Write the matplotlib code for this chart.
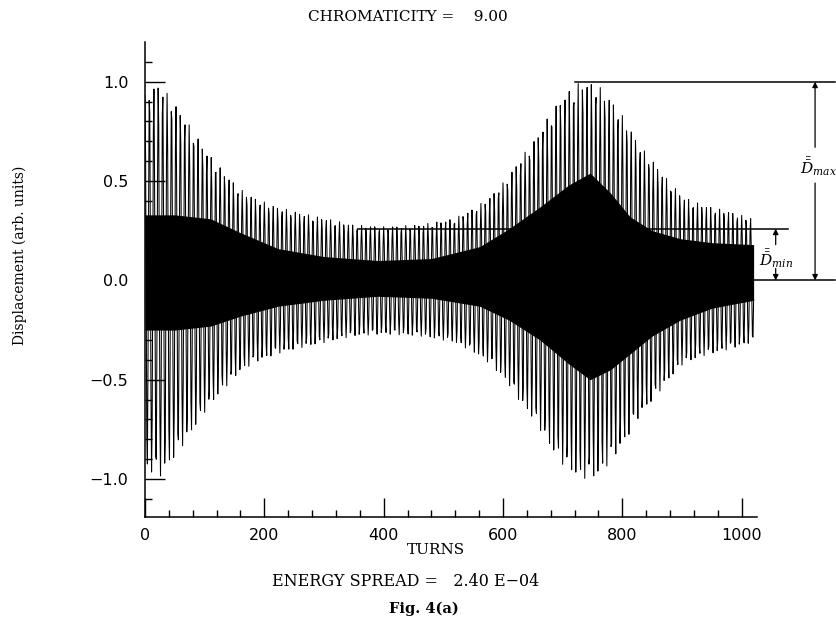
import numpy as np
import matplotlib
matplotlib.use("Agg")
import matplotlib.pyplot as plt

# envelope of the displacement signal
env_turns = [0, 5, 25, 50, 75, 103, 131, 159, 187, 221, 260, 305, 349, 400,
             461, 517, 550, 578, 606, 628, 656, 679, 701, 729, 757, 779, 807,
             829, 852, 875, 902, 935, 975, 1020]
env_amp = [0.93, 0.96, 0.99, 0.89, 0.78, 0.65, 0.55, 0.46, 0.41, 0.37, 0.34,
           0.31, 0.28, 0.27, 0.28, 0.31, 0.36, 0.42, 0.51, 0.61, 0.72, 0.84,
           0.93, 1.0, 0.99, 0.92, 0.80, 0.68, 0.60, 0.51, 0.42, 0.38, 0.35, 0.31]
tune_frac = 0.135
n_turns = 1020

# solid dark core of the trace (upper / lower edge)
core_turns = [0, 50, 110, 160, 223, 300, 390, 480, 561, 610, 662, 710, 746,
              780, 813, 850, 897, 950, 1020]
core_hi = [0.33, 0.33, 0.31, 0.24, 0.16, 0.12, 0.10, 0.11, 0.17, 0.26, 0.37,
           0.48, 0.54, 0.44, 0.32, 0.25, 0.21, 0.19, 0.18]
core_lo = [-0.25, -0.25, -0.23, -0.18, -0.13, -0.10, -0.08, -0.09, -0.13,
           -0.20, -0.30, -0.42, -0.50, -0.45, -0.37, -0.28, -0.20, -0.14, -0.10]

d_max = 1.0
d_min = 0.26
xticks = [0, 200, 400, 600, 800, 1000]
yticks = [-1.0, -0.5, 0.0, 0.5, 1.0]

turns = np.arange(n_turns + 1)
amp = np.interp(turns, env_turns, env_amp)
disp = amp * np.cos(2 * np.pi * tune_frac * turns)

plt.rcParams["mathtext.fontset"] = "dejavuserif"

fig = plt.figure(figsize=(8.36, 6.27), dpi=100)
ax = fig.add_axes([145 / 836, 110 / 627, 611.6 / 836, 475 / 627])

ax.fill_between(turns, np.interp(turns, core_turns, core_lo),
                np.interp(turns, core_turns, core_hi), color="black", lw=0)
ax.plot(turns, disp, color="black", lw=0.75)

ax.set_xlim(0, 1025)
ax.set_ylim(-1.191, 1.2)
for s in ["top", "right"]:
    ax.spines[s].set_visible(False)
for s in ["left", "bottom"]:
    ax.spines[s].set_linewidth(1.1)

ax.set_xticks(xticks)
ax.set_xticks(np.arange(0, 1025, 40), minor=True)
ax.set_yticks(yticks)
ax.set_yticks(np.arange(-1.1, 1.15, 0.1), minor=True)
ax.set_yticklabels(["\u22121.0", "\u22120.5", "0.0", "0.5", "1.0"])
ax.tick_params(axis="y", which="major", direction="in", length=14.5, width=1.0,
               labelsize=11.5, pad=12)
ax.tick_params(axis="x", which="major", direction="in", length=13.7, width=1.0,
               labelsize=11.5, pad=8)
ax.tick_params(which="minor", direction="in", length=5, width=1.0)
for lab in ax.get_xticklabels() + ax.get_yticklabels():
    lab.set_family("DejaVu Sans")

# D_max / D_min markers
ax.plot([721, 1156], [d_max, d_max], color="black", lw=1.1, clip_on=False)
ax.plot([357, 1078], [d_min, d_min], color="black", lw=1.1, clip_on=False)
ax.plot([1020, 1156], [0, 0], color="black", lw=1.1, clip_on=False)

arrow = dict(arrowstyle="-|>", color="black", lw=0.9, mutation_scale=8,
             shrinkA=0, shrinkB=0)
ax.annotate("", xy=(1123, d_max), xytext=(1123, 0.67), arrowprops=arrow,
            annotation_clip=False)
ax.annotate("", xy=(1123, 0.0), xytext=(1123, 0.49), arrowprops=arrow,
            annotation_clip=False)
ax.annotate("", xy=(1057, d_min), xytext=(1057, 0.18), arrowprops=arrow,
            annotation_clip=False)
ax.annotate("", xy=(1057, 0.0), xytext=(1057, 0.06), arrowprops=arrow,
            annotation_clip=False)
ax.text(1128, 0.575, r"$\bar{\bar{D}}_{max}$", ha="center",
        va="center", fontsize=11, clip_on=False)
ax.text(1057, 0.11, r"$\bar{\bar{D}}_{min}$", ha="center",
        va="center", fontsize=11, clip_on=False)

serif = "DejaVu Serif"
fig.text(408 / 836, 1 - 17 / 627, "CHROMATICITY =    9.00", ha="center",
         va="center", fontsize=11, family=serif)
fig.text(436 / 836, 1 - 550 / 627, "TURNS", ha="center", va="center",
         fontsize=11, family=serif)
fig.text(406 / 836, 1 - 581 / 627, "ENERGY SPREAD =   2.40 E\u221204",
         ha="center", va="center", fontsize=11.5, family=serif)
fig.text(424 / 836, 1 - 609 / 627, "Fig. 4(a)", ha="center", va="center",
         fontsize=10.5, family=serif, fontweight="bold")
fig.text(20 / 836, 1 - 255 / 627, "Displacement (arb. units)", ha="center",
         va="center", rotation=90, fontsize=10, family=serif)

fig.savefig("out.png", dpi=100)
